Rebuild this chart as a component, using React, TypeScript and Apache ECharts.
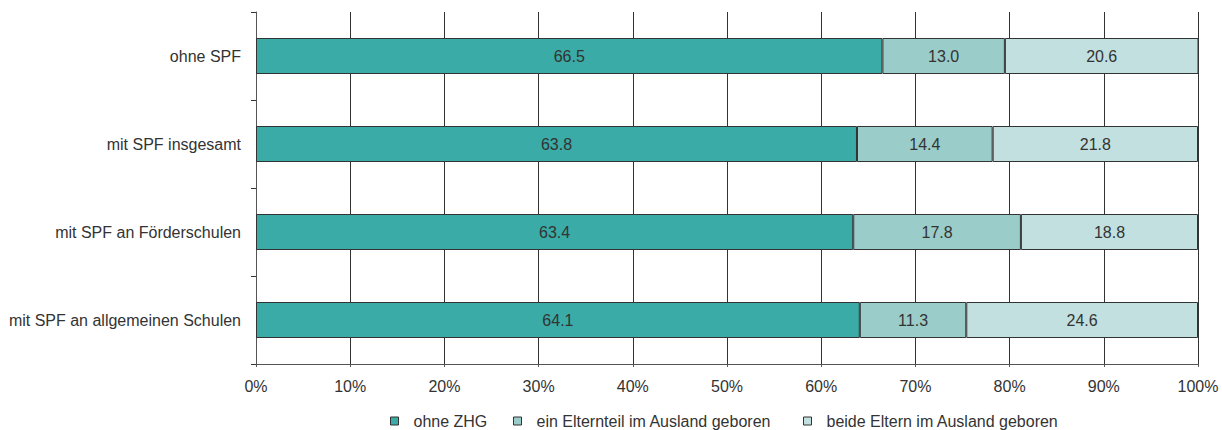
import React, { useEffect, useRef } from "react";
import * as echarts from "echarts";

const categories = ["ohne SPF", "mit SPF insgesamt", "mit SPF an Förderschulen", "mit SPF an allgemeinen Schulen"];
const seriesNames = ["ohne ZHG", "ein Elternteil im Ausland geboren", "beide Eltern im Ausland geboren"];
const ohneZHG = [66.5, 63.8, 63.4, 64.1];
const einElternteil = [13.0, 14.4, 17.8, 11.3];
const beideEltern = [20.6, 21.8, 18.8, 24.6];
const colors = ["#3aaba6", "#9accc9", "#c2e0df"];
const legendLefts = [390, 513, 803];

export default function App() {
  const ref = useRef<HTMLDivElement>(null);
  useEffect(() => {
    if (!ref.current) return;
    const chart = echarts.init(ref.current, undefined, { renderer: "svg" });
    const font = "'Liberation Sans', Arial, sans-serif";
    const data = [ohneZHG, einElternteil, beideEltern];
    chart.setOption({
      animation: false,
      textStyle: { fontFamily: font },
      grid: { left: 256, right: 24, top: 12, bottom: 66, containLabel: false },
      legend: seriesNames.map((n, i) => ({
        top: 413,
        left: legendLefts[i],
        padding: 0,
        itemWidth: 8,
        itemHeight: 8,
        icon: "rect",
        textStyle: { fontFamily: font, fontSize: 16, color: "#333", padding: [0, 0, 0, 10] },
        data: [{ name: n, itemStyle: { color: colors[i], borderColor: "#333", borderWidth: 1 } }],
      })),
      xAxis: {
        type: "value",
        min: 0,
        max: 100,
        interval: 10,
        axisLine: { show: true, lineStyle: { color: "#555", width: 1 } },
        axisTick: { show: true, length: 3, lineStyle: { color: "#555" } },
        splitLine: { show: true, lineStyle: { color: "#333", width: 1 } },
        axisLabel: { formatter: "{value}%", fontSize: 16, color: "#333", margin: 14, fontFamily: font },
      },
      yAxis: {
        type: "category",
        inverse: true,
        data: categories,
        axisLine: { show: true, lineStyle: { color: "#555", width: 1 } },
        axisTick: { show: true, length: 5, lineStyle: { color: "#333" } },
        axisLabel: { fontSize: 16, color: "#333", margin: 15, fontFamily: font },
      },
      series: data.map((d, i) => ({
        name: seriesNames[i],
        type: "bar",
        stack: "total",
        barWidth: 36,
        data: d,
        itemStyle: { color: colors[i], borderColor: "#333", borderWidth: 1 },
        label: {
          show: true,
          position: "inside",
          formatter: (p: any) => p.value.toFixed(1),
          fontSize: 16,
          color: "#333",
          fontFamily: font,
        },
      })),
    });
    return () => chart.dispose();
  }, []);
  return <div ref={ref} style={{ position: "absolute", left: 0, top: 0, width: 1222, height: 430 }} />;
}
